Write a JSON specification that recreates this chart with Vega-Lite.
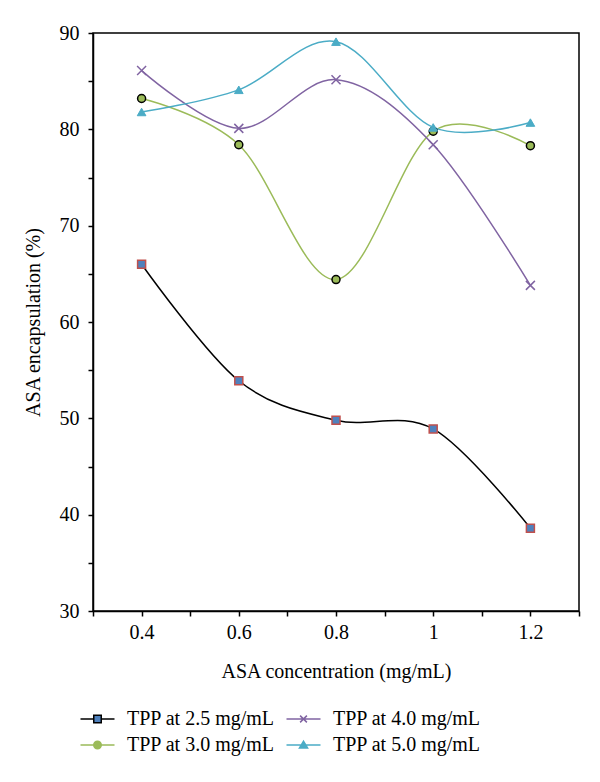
{
  "$schema": "https://vega.github.io/schema/vega-lite/v6.json",
  "autosize": {"type": "none"},
  "padding": {"left": 93, "top": 33, "right": 21, "bottom": 171},
  "width": 486,
  "height": 578,
  "config": {
    "font": "Liberation Serif",
    "view": {"stroke": "#000000", "strokeWidth": 1.5},
    "axis": {
      "grid": false,
      "domainColor": "#000000",
      "domainWidth": 1.5,
      "tickColor": "#000000",
      "tickWidth": 1.5,
      "tickSize": 5,
      "labelFont": "Liberation Serif",
      "labelFontSize": 20,
      "labelColor": "#000000",
      "titleFont": "Liberation Serif",
      "titleFontSize": 20,
      "titleFontWeight": "normal",
      "titleColor": "#000000"
    }
  },
  "data": {
    "values": [
      {"series": "TPP at 2.5 mg/mL", "x": 0.4, "y": 66.0},
      {"series": "TPP at 2.5 mg/mL", "x": 0.6, "y": 53.9},
      {"series": "TPP at 2.5 mg/mL", "x": 0.8, "y": 49.8},
      {"series": "TPP at 2.5 mg/mL", "x": 1.0, "y": 48.9},
      {"series": "TPP at 2.5 mg/mL", "x": 1.2, "y": 38.6},
      {"series": "TPP at 3.0 mg/mL", "x": 0.4, "y": 83.2},
      {"series": "TPP at 3.0 mg/mL", "x": 0.6, "y": 78.4},
      {"series": "TPP at 3.0 mg/mL", "x": 0.8, "y": 64.4},
      {"series": "TPP at 3.0 mg/mL", "x": 1.0, "y": 79.8},
      {"series": "TPP at 3.0 mg/mL", "x": 1.2, "y": 78.3},
      {"series": "TPP at 4.0 mg/mL", "x": 0.4, "y": 86.1},
      {"series": "TPP at 4.0 mg/mL", "x": 0.6, "y": 80.1},
      {"series": "TPP at 4.0 mg/mL", "x": 0.8, "y": 85.15},
      {"series": "TPP at 4.0 mg/mL", "x": 1.0, "y": 78.4},
      {"series": "TPP at 4.0 mg/mL", "x": 1.2, "y": 63.8},
      {"series": "TPP at 5.0 mg/mL", "x": 0.4, "y": 81.8},
      {"series": "TPP at 5.0 mg/mL", "x": 0.6, "y": 84.1},
      {"series": "TPP at 5.0 mg/mL", "x": 0.8, "y": 89.1},
      {"series": "TPP at 5.0 mg/mL", "x": 1.0, "y": 80.2},
      {"series": "TPP at 5.0 mg/mL", "x": 1.2, "y": 80.7}
    ]
  },
  "encoding": {
    "x": {
      "field": "x", "type": "quantitative",
      "scale": {"domain": [0.3, 1.3], "nice": false, "zero": false},
      "axis": {
        "title": "ASA concentration (mg/mL)",
        "values": [0.3, 0.4, 0.5, 0.6, 0.7, 0.8, 0.9, 1.0, 1.1, 1.2, 1.3],
        "labelExpr": "(round(datum.value*10) % 2 == 0 && datum.value > 0.35 && datum.value < 1.25) ? format(datum.value, '~g') : ''",
        "labelFont": "Liberation Serif",
        "labelFontSize": 20,
        "labelPadding": 6,
        "titlePadding": 19,
        "labelFlush": false
      }
    },
    "y": {
      "field": "y", "type": "quantitative",
      "scale": {"domain": [30, 90], "nice": false, "zero": false},
      "axis": {
        "title": "ASA encapsulation (%)",
        "values": [30, 35, 40, 45, 50, 55, 60, 65, 70, 75, 80, 85, 90],
        "labelExpr": "datum.value % 10 == 0 ? datum.label : ''",
        "labelFont": "Liberation Serif",
        "labelFontSize": 20,
        "labelPadding": 9,
        "titlePadding": 16,
        "labelFlush": false
      }
    }
  },
  "layer": [
    {
      "mark": {"type": "line", "interpolate": "cardinal", "strokeWidth": 1.5},
      "encoding": {
        "detail": {"field": "series"},
        "color": {
          "field": "series", "type": "nominal", "legend": null,
          "scale": {
            "domain": ["TPP at 2.5 mg/mL", "TPP at 3.0 mg/mL", "TPP at 4.0 mg/mL", "TPP at 5.0 mg/mL"],
            "range": ["#000000", "#9bbb59", "#8064a2", "#4bacc6"]
          }
        }
      }
    },
    {
      "transform": [{"filter": "datum.series == 'TPP at 2.5 mg/mL'"}],
      "mark": {"type": "point", "shape": "square", "filled": true, "fill": "#4f81bd", "stroke": "#c0504d", "strokeWidth": 1.5, "size": 64, "opacity": 1}
    },
    {
      "transform": [{"filter": "datum.series == 'TPP at 3.0 mg/mL'"}],
      "mark": {"type": "point", "shape": "circle", "filled": true, "fill": "#9bbb59", "stroke": "#000000", "strokeWidth": 1.5, "size": 64, "opacity": 1}
    },
    {
      "transform": [{"filter": "datum.series == 'TPP at 4.0 mg/mL'"}],
      "mark": {"type": "point", "shape": "M-1,-1L1,1M-1,1L1,-1", "filled": false, "stroke": "#8064a2", "strokeWidth": 1.5, "size": 81, "opacity": 1}
    },
    {
      "transform": [{"filter": "datum.series == 'TPP at 5.0 mg/mL'"}],
      "mark": {"type": "point", "shape": "triangle-up", "filled": true, "fill": "#4bacc6", "stroke": "#4bacc6", "strokeWidth": 1, "size": 75, "opacity": 1}
    },
    {
      "mark": {"type": "point", "opacity": 0, "strokeWidth": 1.5},
      "encoding": {
        "shape": {
          "field": "series", "type": "nominal",
          "scale": {
            "domain": ["TPP at 2.5 mg/mL", "TPP at 4.0 mg/mL", "TPP at 3.0 mg/mL", "TPP at 5.0 mg/mL"],
            "range": [
              "M-1,0H0.56M1.44,0H3M0.56,-0.44H1.44V0.44H0.56Z",
              "M-1,0H3M0.6,-0.4L1.4,0.4M0.6,0.4L1.4,-0.4",
              "M-1,0H0.56M1.44,0H3M0.56,0A0.44,0.44 0 1,0 1.44,0A0.44,0.44 0 1,0 0.56,0Z",
              "M-1,0H3M0.52,0.36L1,-0.44L1.48,0.36Z"
            ]
          },
          "legend": {
            "title": null,
            "orient": "none",
            "legendX": -14,
            "legendY": 676,
            "direction": "horizontal",
            "columns": 2,
            "columnPadding": 8,
            "rowPadding": 6,
            "symbolSize": 289,
            "symbolStrokeWidth": 1.5,
            "symbolOpacity": 1,
            "labelFont": "Liberation Serif",
            "labelFontSize": 20,
            "labelColor": "#000000",
            "labelOffset": 28,
            "labelLimit": 300,
            "padding": 0
          }
        },
        "fill": {
          "field": "series", "type": "nominal",
          "scale": {
            "domain": ["TPP at 2.5 mg/mL", "TPP at 4.0 mg/mL", "TPP at 3.0 mg/mL", "TPP at 5.0 mg/mL"],
            "range": ["#4f81bd", "#8064a2", "#9bbb59", "#4bacc6"]
          }
        },
        "stroke": {
          "field": "series", "type": "nominal",
          "scale": {
            "domain": ["TPP at 2.5 mg/mL", "TPP at 4.0 mg/mL", "TPP at 3.0 mg/mL", "TPP at 5.0 mg/mL"],
            "range": ["#000000", "#8064a2", "#9bbb59", "#4bacc6"]
          }
        }
      }
    }
  ]
}
